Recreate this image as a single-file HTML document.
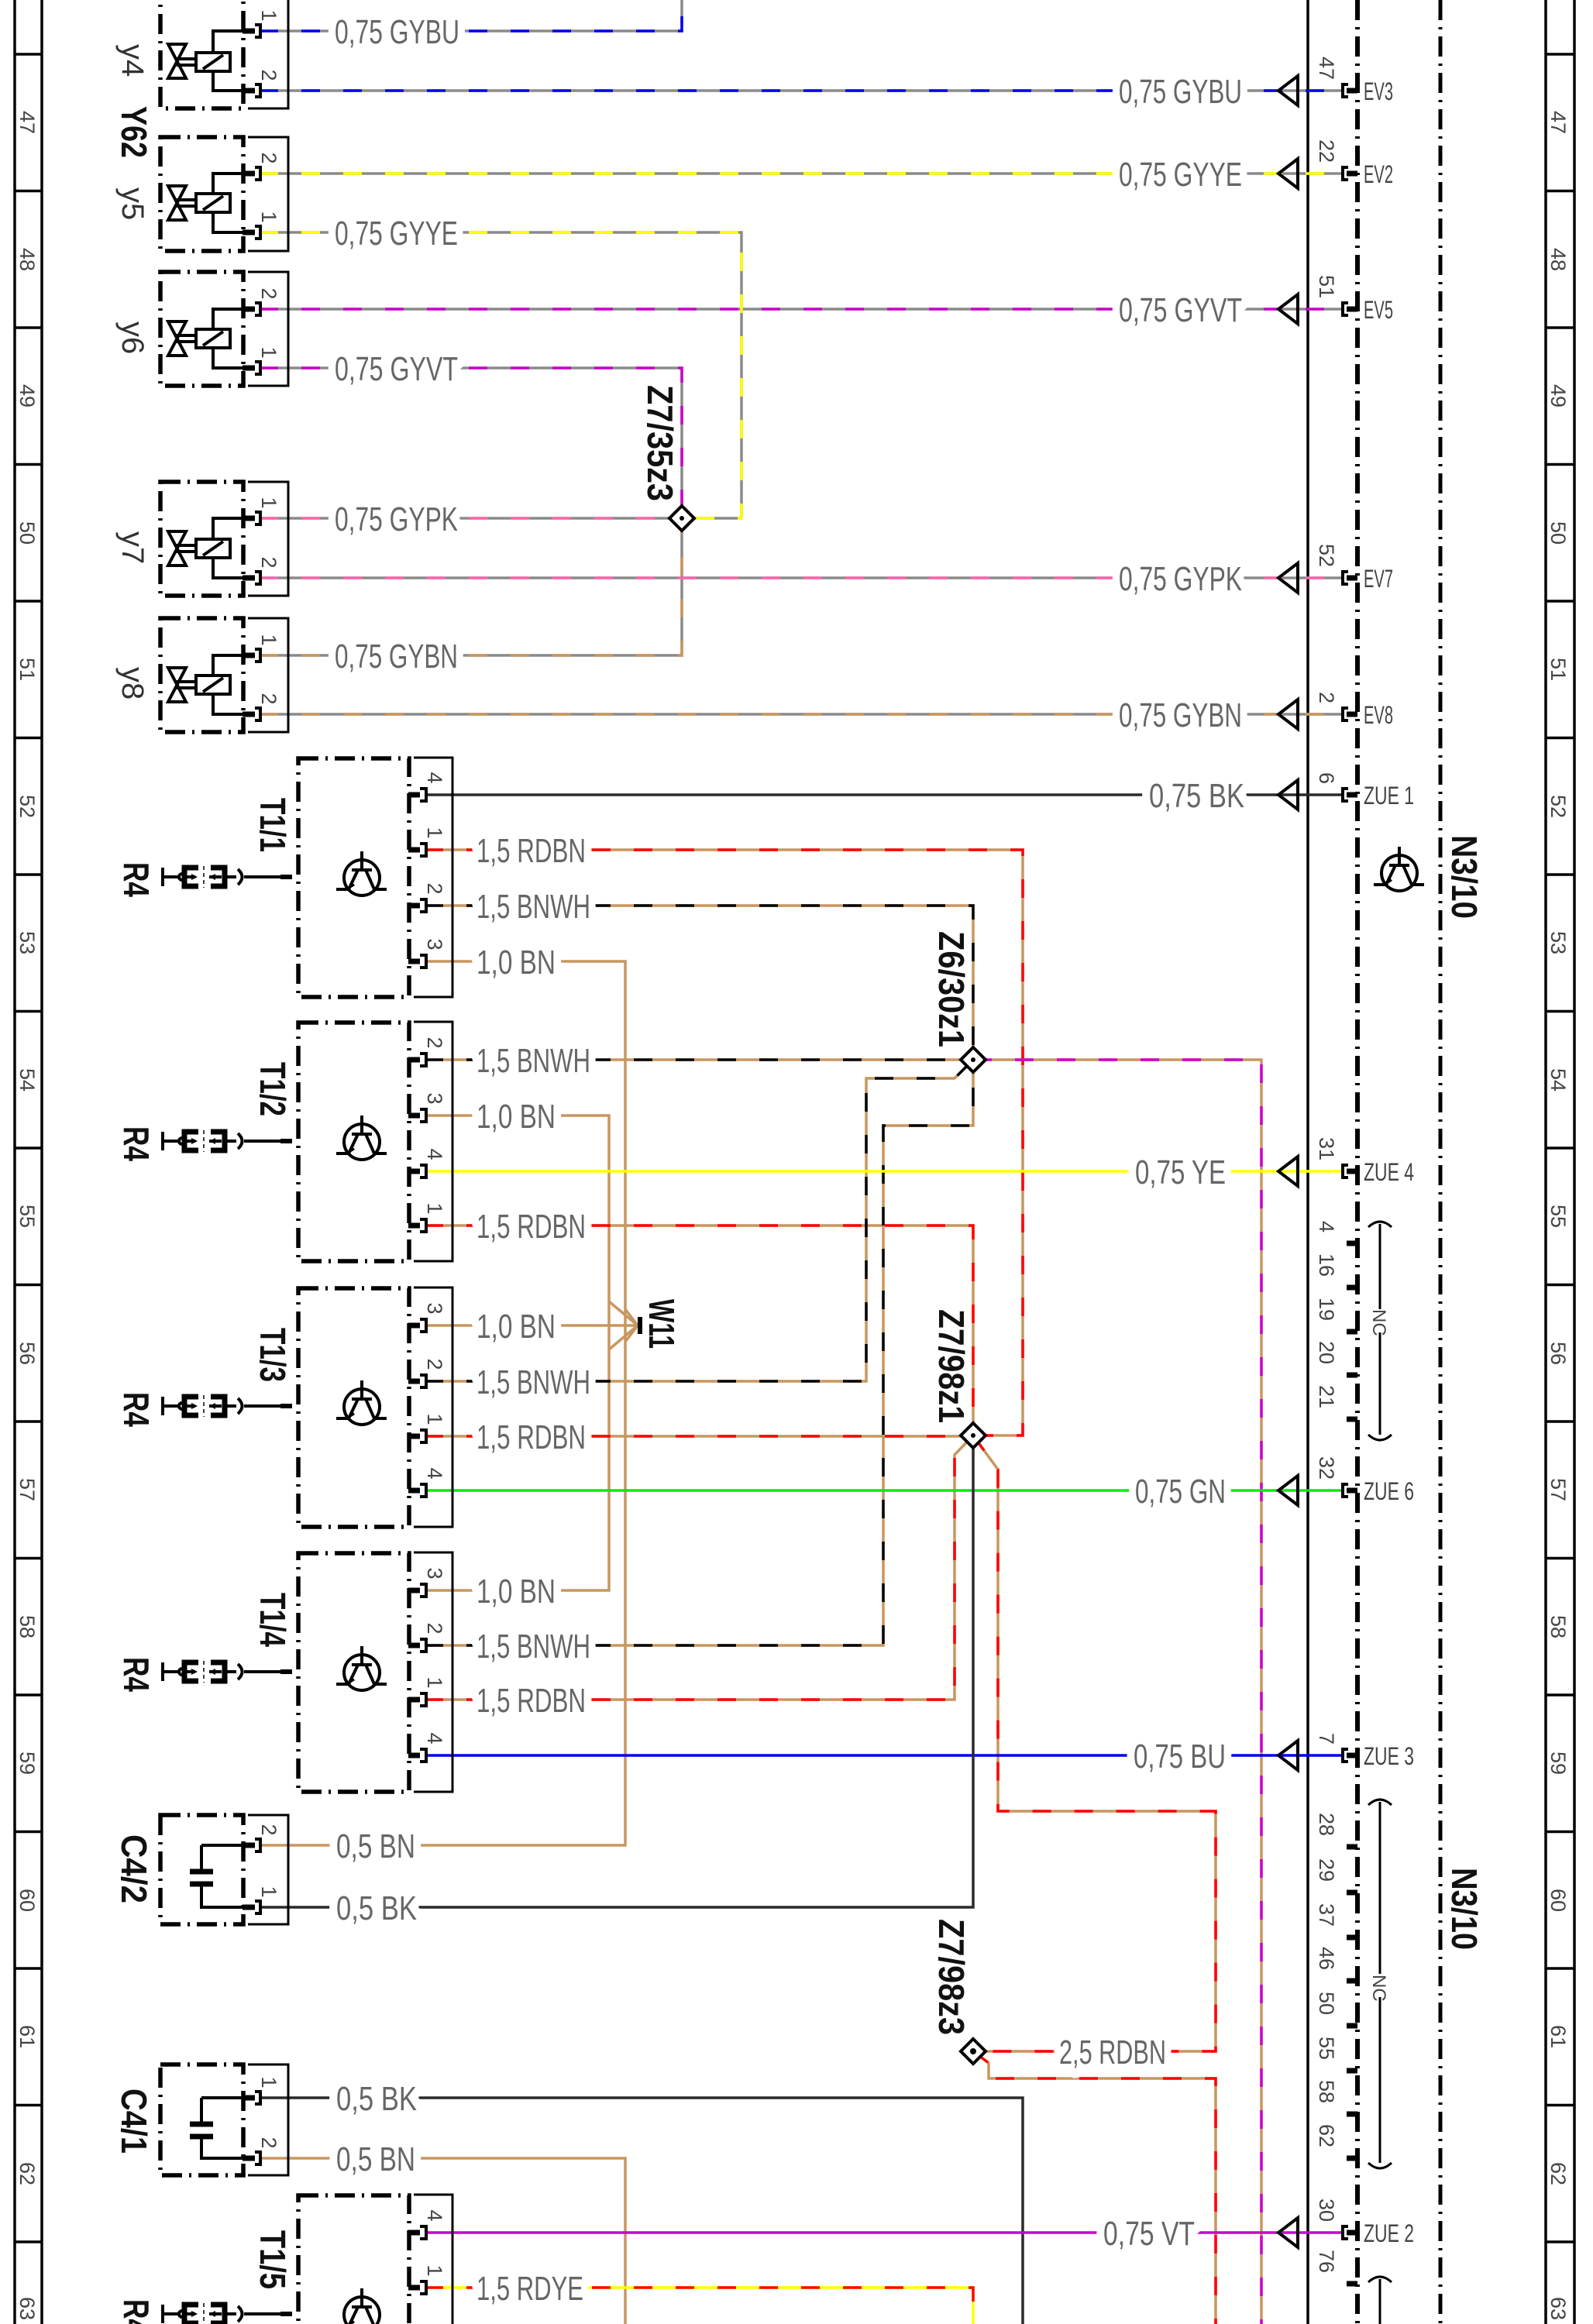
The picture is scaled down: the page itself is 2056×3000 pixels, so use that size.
<!DOCTYPE html>
<html><head><meta charset="utf-8">
<style>
html,body{margin:0;padding:0;background:#fff;}
svg{display:block;}
.w{fill:none;stroke-width:3.5;stroke-linejoin:miter;}
.d{stroke-dasharray:24 30;}
.gy{stroke:#8a8a8a}.bu{stroke:#0000ee}.ye{stroke:#ffff00}.vt{stroke:#cc00cc}.pk{stroke:#ff66aa}
.bn{stroke:#c8965f}.rd{stroke:#ff0000}.bk{stroke:#2a2a2a}.bl{stroke:#000}.gn{stroke:#00ee00}
.lb{font-family:"Liberation Sans",sans-serif;font-size:44px;fill:#666;stroke:#fff;stroke-width:26px;paint-order:stroke;stroke-linejoin:round;}
.sm{font-family:"Liberation Sans",sans-serif;font-size:27px;fill:#444;}
.cn{font-family:"Liberation Sans",sans-serif;font-size:32px;fill:#444;}
.bd{font-family:"Liberation Sans",sans-serif;font-size:46px;font-weight:bold;fill:#111;}
.nm{font-family:"Liberation Sans",sans-serif;font-size:40px;fill:#333;}
.box{fill:none;stroke:#000;stroke-width:5.5;stroke-dasharray:26 9 3 9;}
.fr{fill:none;stroke:#000;stroke-width:3;}
.k{fill:none;stroke:#000;stroke-width:4;}
.st{stroke:#000;stroke-width:7;}
</style></head><body>
<svg width="2056" height="3000" viewBox="0 0 2056 3000" xmlns="http://www.w3.org/2000/svg">
<!-- borders -->
<g stroke="#000" stroke-width="3.5" fill="none">
<path d="M19 0V3000M54 0V3000M1995 0V3000M2032 0V3000"/>
<path d="M19 70H54M19 246.5H54M19 423H54M19 599.5H54M19 776H54M19 952.5H54M19 1129H54M19 1305.5H54M19 1482H54M19 1658.5H54M19 1835H54M19 2011.5H54M19 2188H54M19 2364.5H54M19 2541H54M19 2717.5H54M19 2894H54"/>
<path d="M1995 70H2032M1995 246.5H2032M1995 423H2032M1995 599.5H2032M1995 776H2032M1995 952.5H2032M1995 1129H2032M1995 1305.5H2032M1995 1482H2032M1995 1658.5H2032M1995 1835H2032M1995 2011.5H2032M1995 2188H2032M1995 2364.5H2032M1995 2541H2032M1995 2717.5H2032M1995 2894H2032"/>
</g>
<g class="sm" text-anchor="middle">
<text transform="translate(26,158) rotate(90)">47</text><text transform="translate(26,335) rotate(90)">48</text><text transform="translate(26,511) rotate(90)">49</text><text transform="translate(26,688) rotate(90)">50</text><text transform="translate(26,864) rotate(90)">51</text><text transform="translate(26,1041) rotate(90)">52</text><text transform="translate(26,1217) rotate(90)">53</text><text transform="translate(26,1394) rotate(90)">54</text><text transform="translate(26,1570) rotate(90)">55</text><text transform="translate(26,1747) rotate(90)">56</text><text transform="translate(26,1923) rotate(90)">57</text><text transform="translate(26,2100) rotate(90)">58</text><text transform="translate(26,2276) rotate(90)">59</text><text transform="translate(26,2453) rotate(90)">60</text><text transform="translate(26,2629) rotate(90)">61</text><text transform="translate(26,2806) rotate(90)">62</text><text transform="translate(26,2980) rotate(90)">63</text>
<text transform="translate(2002,158) rotate(90)">47</text><text transform="translate(2002,335) rotate(90)">48</text><text transform="translate(2002,511) rotate(90)">49</text><text transform="translate(2002,688) rotate(90)">50</text><text transform="translate(2002,864) rotate(90)">51</text><text transform="translate(2002,1041) rotate(90)">52</text><text transform="translate(2002,1217) rotate(90)">53</text><text transform="translate(2002,1394) rotate(90)">54</text><text transform="translate(2002,1570) rotate(90)">55</text><text transform="translate(2002,1747) rotate(90)">56</text><text transform="translate(2002,1923) rotate(90)">57</text><text transform="translate(2002,2100) rotate(90)">58</text><text transform="translate(2002,2276) rotate(90)">59</text><text transform="translate(2002,2453) rotate(90)">60</text><text transform="translate(2002,2629) rotate(90)">61</text><text transform="translate(2002,2806) rotate(90)">62</text><text transform="translate(2002,2980) rotate(90)">63</text>
</g>

<!-- N3/10 module lines -->
<path d="M1688 0V3000" stroke="#000" stroke-width="3.5"/>
<path d="M1752 0V3000" stroke="#000" stroke-width="6" stroke-dasharray="26 9 3 9"/>
<path d="M1859 0V3000" stroke="#000" stroke-width="5" stroke-dasharray="26 9 3 9"/>

<!-- ===== WIRES ===== -->
<g class="w gy">
<path d="M335 40H880V0"/><path d="M335 117H1731"/><path d="M335 224H1731"/><path d="M335 300H957V669H880"/>
<path d="M335 399H1731"/><path d="M335 475H880V669"/><path d="M335 669H880"/><path d="M335 746H1731"/>
<path d="M335 846H880V669"/><path d="M335 922H1731"/>
</g>
<g class="w d">
<path class="bu" d="M335 40H880V0"/><path class="bu" d="M335 117H1731"/>
<path class="ye" d="M335 224H1731"/><path class="ye" d="M335 300H957V669H880"/>
<path class="vt" d="M335 399H1731"/><path class="vt" d="M335 475H880V669"/>
<path class="pk" d="M335 669H880"/><path class="pk" d="M335 746H1731"/>
<path class="bn" d="M335 846H880V669"/><path class="bn" d="M335 922H1731"/>
</g>
<g class="w bn">
<path d="M548 1097H1320V1853H1256"/>
<path d="M548 1169H1256V1368"/>
<path d="M548 1241H807V2382H335"/>
<path d="M548 1368H1256"/>
<path d="M548 1440H786V2053H548"/>
<path d="M548 1711H823"/>
<path d="M786 1680L823 1711L786 1742"/><path d="M807 1690L823 1711L807 1732"/>
<path d="M548 1582H1256V1853"/>
<path d="M548 1783H1118V1392H1232L1256 1368"/>
<path d="M548 1854H1256"/>
<path d="M548 2124H1140V1453H1256V1368"/>
<path d="M548 2194H1232V1878L1256 1853"/>
<path d="M1256 1853L1288 1897V2338H1569V2648H1256"/>
<path d="M1256 2648L1276 2663V2683H1569V3000"/>
<path d="M1256 1368H1628V3000"/>
<path d="M335 2786H807V3000"/>
</g>
<g class="w d">
<path class="rd" d="M548 1097H1320V1853H1256"/>
<path class="bl" d="M548 1169H1256V1368"/>
<path class="bl" d="M548 1368H1256"/>
<path class="rd" d="M548 1582H1256V1853"/>
<path class="bl" d="M548 1783H1118V1392H1232L1256 1368"/>
<path class="rd" d="M548 1854H1256"/>
<path class="bl" d="M548 2124H1140V1453H1256V1368"/>
<path class="rd" d="M548 2194H1232V1878L1256 1853"/>
<path class="rd" d="M1256 1853L1288 1897V2338H1569V2648H1256"/>
<path class="rd" d="M1256 2648L1276 2663V2683H1569V3000"/>
<path class="vt" d="M1256 1368H1628V3000"/>
</g>
<path class="w ye" d="M548 2953H1256V3000"/>
<path class="w rd d" d="M548 2953H1256V3000"/>
<path class="w bk" d="M548 1026H1731"/>
<path class="w ye" d="M548 1512H1731"/>
<path class="w gn" d="M548 1924H1731"/>
<path class="w bu" d="M548 2266H1731"/>
<path class="w bk" d="M335 2462H1256V1853"/>
<path class="w bk" d="M335 2708H1320V3000"/>
<path class="w vt" d="M548 2882H1731"/>
<path d="M826 1700V1722" stroke="#000" stroke-width="6"/>

<!-- splices -->
<g fill="#fff" stroke="#000" stroke-width="4">
<path d="M880 653L896 669L880 685L864 669Z"/>
<path d="M1256 1352L1272 1368L1256 1384L1240 1368Z"/>
<path d="M1256 1837L1272 1853L1256 1869L1240 1853Z"/>
<path d="M1256 2632L1272 2648L1256 2664L1240 2648Z"/>
</g>
<g fill="#000"><circle cx="880" cy="669" r="3"/><circle cx="1256" cy="1368" r="3"/><circle cx="1256" cy="1853" r="3"/><circle cx="1256" cy="2648" r="4"/></g>

<!-- wire labels -->
<g class="lb">
<text x="432" y="56" textLength="161" lengthAdjust="spacingAndGlyphs">0,75 GYBU</text>
<text x="1444" y="133" textLength="159" lengthAdjust="spacingAndGlyphs">0,75 GYBU</text>
<text x="1444" y="240" textLength="159" lengthAdjust="spacingAndGlyphs">0,75 GYYE</text>
<text x="432" y="316" textLength="159" lengthAdjust="spacingAndGlyphs">0,75 GYYE</text>
<text x="1444" y="415" textLength="159" lengthAdjust="spacingAndGlyphs">0,75 GYVT</text>
<text x="432" y="491" textLength="159" lengthAdjust="spacingAndGlyphs">0,75 GYVT</text>
<text x="432" y="685" textLength="159" lengthAdjust="spacingAndGlyphs">0,75 GYPK</text>
<text x="1444" y="762" textLength="159" lengthAdjust="spacingAndGlyphs">0,75 GYPK</text>
<text x="432" y="862" textLength="159" lengthAdjust="spacingAndGlyphs">0,75 GYBN</text>
<text x="1444" y="938" textLength="159" lengthAdjust="spacingAndGlyphs">0,75 GYBN</text>
<text x="1483" y="1042" textLength="123" lengthAdjust="spacingAndGlyphs">0,75 BK</text>
<text x="615" y="1113" textLength="141" lengthAdjust="spacingAndGlyphs">1,5 RDBN</text>
<text x="615" y="1185" textLength="147" lengthAdjust="spacingAndGlyphs">1,5 BNWH</text>
<text x="615" y="1257" textLength="102" lengthAdjust="spacingAndGlyphs">1,0 BN</text>
<text x="615" y="1384" textLength="147" lengthAdjust="spacingAndGlyphs">1,5 BNWH</text>
<text x="615" y="1456" textLength="102" lengthAdjust="spacingAndGlyphs">1,0 BN</text>
<text x="1465" y="1528" textLength="117" lengthAdjust="spacingAndGlyphs">0,75 YE</text>
<text x="615" y="1598" textLength="141" lengthAdjust="spacingAndGlyphs">1,5 RDBN</text>
<text x="615" y="1727" textLength="102" lengthAdjust="spacingAndGlyphs">1,0 BN</text>
<text x="615" y="1799" textLength="147" lengthAdjust="spacingAndGlyphs">1,5 BNWH</text>
<text x="615" y="1870" textLength="141" lengthAdjust="spacingAndGlyphs">1,5 RDBN</text>
<text x="1465" y="1940" textLength="117" lengthAdjust="spacingAndGlyphs">0,75 GN</text>
<text x="615" y="2069" textLength="102" lengthAdjust="spacingAndGlyphs">1,0 BN</text>
<text x="615" y="2140" textLength="147" lengthAdjust="spacingAndGlyphs">1,5 BNWH</text>
<text x="615" y="2210" textLength="141" lengthAdjust="spacingAndGlyphs">1,5 RDBN</text>
<text x="1463" y="2282" textLength="119" lengthAdjust="spacingAndGlyphs">0,75 BU</text>
<text x="434" y="2398" textLength="102" lengthAdjust="spacingAndGlyphs">0,5 BN</text>
<text x="434" y="2478" textLength="104" lengthAdjust="spacingAndGlyphs">0,5 BK</text>
<text x="1367" y="2664" textLength="138" lengthAdjust="spacingAndGlyphs">2,5 RDBN</text>
<text x="434" y="2724" textLength="104" lengthAdjust="spacingAndGlyphs">0,5 BK</text>
<text x="434" y="2802" textLength="102" lengthAdjust="spacingAndGlyphs">0,5 BN</text>
<text x="1424" y="2898" textLength="118" lengthAdjust="spacingAndGlyphs">0,75 VT</text>
<text x="615" y="2969" textLength="138" lengthAdjust="spacingAndGlyphs">1,5 RDYE</text>
</g>

<g class="bd">
<text transform="translate(836,497) rotate(90)" textLength="150" lengthAdjust="spacingAndGlyphs">Z7/35z3</text>
<text transform="translate(1212,1202) rotate(90)" textLength="150" lengthAdjust="spacingAndGlyphs">Z6/30z1</text>
<text transform="translate(1212,1690) rotate(90)" textLength="147" lengthAdjust="spacingAndGlyphs">Z7/98z1</text>
<text transform="translate(1212,2477) rotate(90)" textLength="150" lengthAdjust="spacingAndGlyphs">Z7/98z3</text>
<text transform="translate(838,1677) rotate(90)" textLength="64" lengthAdjust="spacingAndGlyphs">W11</text>
<text transform="translate(1874,1078) rotate(90)" textLength="108" lengthAdjust="spacingAndGlyphs">N3/10</text>
<text transform="translate(1874,2411) rotate(90)" textLength="106" lengthAdjust="spacingAndGlyphs">N3/10</text>
</g>

<g class="k">
<path d="M1675 98L1650 117L1675 136Z"/><path d="M1675 205L1650 224L1675 243Z"/><path d="M1675 380L1650 399L1675 418Z"/>
<path d="M1675 727L1650 746L1675 765Z"/><path d="M1675 903L1650 922L1675 941Z"/><path d="M1675 1007L1650 1026L1675 1045Z"/>
<path d="M1675 1493L1650 1512L1675 1531Z"/><path d="M1675 1905L1650 1924L1675 1943Z"/><path d="M1675 2247L1650 2266L1675 2285Z"/>
<path d="M1675 2863L1650 2882L1675 2901Z"/>
<path d="M1740 109H1733V125H1740M1740 216H1733V232H1740M1740 391H1733V407H1740M1740 738H1733V754H1740M1740 914H1733V930H1740M1740 1018H1733V1034H1740M1740 1504H1733V1520H1740M1740 1916H1733V1932H1740M1740 2258H1733V2274H1740M1740 2874H1733V2890H1740"/>
</g>
<g class="st">
<path d="M1738 117H1752M1738 224H1752M1738 399H1752M1738 746H1752M1738 922H1752M1738 1026H1752M1738 1512H1752M1738 1924H1752M1738 2266H1752M1738 2882H1752"/>
<path d="M1738 1605H1752M1738 1662H1752M1738 1719H1752M1738 1775H1752M1738 1832H1752M1738 2384H1752M1738 2443H1752M1738 2501H1752M1738 2557H1752M1738 2615H1752M1738 2673H1752M1738 2729H1752M1738 2786H1752M1738 2948H1752"/>
</g>
<g class="sm" text-anchor="end">
<text transform="translate(1703,103) rotate(90)">47</text><text transform="translate(1703,210) rotate(90)">22</text><text transform="translate(1703,385) rotate(90)">51</text><text transform="translate(1703,732) rotate(90)">52</text><text transform="translate(1703,908) rotate(90)">2</text><text transform="translate(1703,1012) rotate(90)">6</text><text transform="translate(1703,1498) rotate(90)">31</text>
<text transform="translate(1703,1591) rotate(90)">4</text><text transform="translate(1703,1648) rotate(90)">16</text><text transform="translate(1703,1705) rotate(90)">19</text><text transform="translate(1703,1761) rotate(90)">20</text><text transform="translate(1703,1818) rotate(90)">21</text>
<text transform="translate(1703,1910) rotate(90)">32</text><text transform="translate(1703,2252) rotate(90)">7</text>
<text transform="translate(1703,2370) rotate(90)">28</text><text transform="translate(1703,2429) rotate(90)">29</text><text transform="translate(1703,2487) rotate(90)">37</text><text transform="translate(1703,2543) rotate(90)">46</text><text transform="translate(1703,2601) rotate(90)">50</text><text transform="translate(1703,2659) rotate(90)">55</text><text transform="translate(1703,2715) rotate(90)">58</text><text transform="translate(1703,2772) rotate(90)">62</text>
<text transform="translate(1703,2868) rotate(90)">30</text><text transform="translate(1703,2934) rotate(90)">76</text>
</g>
<g class="cn">
<text x="1760" y="129" textLength="38" lengthAdjust="spacingAndGlyphs">EV3</text>
<text x="1760" y="236" textLength="38" lengthAdjust="spacingAndGlyphs">EV2</text>
<text x="1760" y="411" textLength="38" lengthAdjust="spacingAndGlyphs">EV5</text>
<text x="1760" y="758" textLength="38" lengthAdjust="spacingAndGlyphs">EV7</text>
<text x="1760" y="934" textLength="38" lengthAdjust="spacingAndGlyphs">EV8</text>
<text x="1760" y="1038" textLength="65" lengthAdjust="spacingAndGlyphs">ZUE 1</text>
<text x="1760" y="1524" textLength="65" lengthAdjust="spacingAndGlyphs">ZUE 4</text>
<text x="1760" y="1936" textLength="65" lengthAdjust="spacingAndGlyphs">ZUE 6</text>
<text x="1760" y="2278" textLength="65" lengthAdjust="spacingAndGlyphs">ZUE 3</text>
<text x="1760" y="2894" textLength="65" lengthAdjust="spacingAndGlyphs">ZUE 2</text>
</g>
<g fill="none" stroke="#000" stroke-width="3">
<path d="M1781 1580V1690M1781 1720V1852M1766 1584Q1781 1570 1796 1584M1766 1852Q1781 1866 1796 1852"/>
<path d="M1781 2326V2548M1781 2578V2792M1766 2330Q1781 2316 1796 2330M1766 2792Q1781 2806 1796 2792"/>
<path d="M1781 2942V3000M1766 2946Q1781 2932 1796 2946"/>
</g>
<g class="sm"><text transform="translate(1772,1690) rotate(90)" font-size="24">NC</text><text transform="translate(1772,2549) rotate(90)" font-size="24">NC</text></g>
<g class="k">
<circle cx="1806" cy="1127" r="23"/><path d="M1806 1093V1117M1793 1117H1819M1801 1117L1789 1142M1811 1117L1822 1142M1773 1142H1789M1822 1142H1838"/>
</g>
<path d="M1789 1142l3-11l5 6z" fill="#000"/>

<!-- ===== VALVES ===== -->
<rect class="box" x="207" y="-20" width="107" height="160"/>
<rect class="box" x="207" y="177" width="107" height="147"/>
<rect class="box" x="207" y="351" width="107" height="147"/>
<rect class="box" x="207" y="622" width="107" height="147"/>
<rect class="box" x="207" y="798" width="107" height="147"/>
<path class="fr" d="M320 -5H372V140H320M320 177H372V324H320M320 351H372V498H320M320 622H372V769H320M320 798H372V945H320"/>
<g class="k">
<path d="M217 57H240L217 101H240Z"/><path d="M228 76H253M228 84H253"/><rect x="253" y="68" width="44" height="24"/><path d="M262 89L288 71M275 68V40H314M275 92V117H314"/>
<path d="M217 240H240L217 284H240Z"/><path d="M228 258H253M228 266H253"/><rect x="253" y="250" width="44" height="24"/><path d="M262 271L288 253M275 250V224H314M275 274V300H314"/>
<path d="M217 415H240L217 459H240Z"/><path d="M228 433H253M228 441H253"/><rect x="253" y="425" width="44" height="24"/><path d="M262 446L288 428M275 425V399H314M275 449V475H314"/>
<path d="M217 686H240L217 730H240Z"/><path d="M228 704H253M228 712H253"/><rect x="253" y="696" width="44" height="24"/><path d="M262 717L288 699M275 696V669H314M275 720V746H314"/>
<path d="M217 862H240L217 906H240Z"/><path d="M228 880H253M228 888H253"/><rect x="253" y="872" width="44" height="24"/><path d="M262 893L288 875M275 872V846H314M275 896V922H314"/>
<path d="M329 32H336V48H329M329 109H336V125H329M329 216H336V232H329M329 292H336V308H329M329 391H336V407H329M329 467H336V483H329M329 661H336V677H329M329 738H336V754H329M329 838H336V854H329M329 914H336V930H329"/>
<path d="M329 2374H336V2390H329M329 2454H336V2470H329M329 2700H336V2716H329M329 2778H336V2794H329"/>
</g>
<g class="st"><path d="M313 40H329M313 117H329M313 224H329M313 300H329M313 399H329M313 475H329M313 669H329M313 746H329M313 846H329M313 922H329M313 2382H329M313 2462H329M313 2708H329M313 2786H329"/></g>
<g class="sm">
<text transform="translate(338,20) rotate(90)" text-anchor="middle">1</text><text transform="translate(338,97) rotate(90)" text-anchor="middle">2</text>
<text transform="translate(338,204) rotate(90)" text-anchor="middle">2</text><text transform="translate(338,280) rotate(90)" text-anchor="middle">1</text>
<text transform="translate(338,379) rotate(90)" text-anchor="middle">2</text><text transform="translate(338,455) rotate(90)" text-anchor="middle">1</text>
<text transform="translate(338,649) rotate(90)" text-anchor="middle">1</text><text transform="translate(338,726) rotate(90)" text-anchor="middle">2</text>
<text transform="translate(338,826) rotate(90)" text-anchor="middle">1</text><text transform="translate(338,902) rotate(90)" text-anchor="middle">2</text>
<text transform="translate(338,2362) rotate(90)" text-anchor="middle">2</text><text transform="translate(338,2442) rotate(90)" text-anchor="middle">1</text>
<text transform="translate(338,2688) rotate(90)" text-anchor="middle">1</text><text transform="translate(338,2766) rotate(90)" text-anchor="middle">2</text>
</g>
<g class="nm">
<text transform="translate(158,57) rotate(90)">y4</text><text transform="translate(158,242) rotate(90)">y5</text><text transform="translate(158,415) rotate(90)">y6</text><text transform="translate(158,686) rotate(90)">y7</text><text transform="translate(158,861) rotate(90)">y8</text>
</g>
<text class="bd" transform="translate(157,137) rotate(90)" textLength="67" lengthAdjust="spacingAndGlyphs">Y62</text>

<!-- capacitors -->
<rect class="box" x="207" y="2343" width="107" height="141"/>
<rect class="box" x="207" y="2665" width="107" height="143"/>
<path class="fr" d="M320 2343H372V2484H320M320 2665H372V2808H320"/>
<g class="k"><path d="M260 2382H314M260 2382V2414M260 2434V2462H314M260 2708H314M260 2708V2740M260 2760V2786H314"/></g>
<g stroke="#000" stroke-width="7"><path d="M245 2416H275M245 2432H275M245 2742H275M245 2758H275"/></g>
<g class="bd"><text transform="translate(157,2368) rotate(90)" textLength="89" lengthAdjust="spacingAndGlyphs">C4/2</text><text transform="translate(157,2696) rotate(90)" textLength="84" lengthAdjust="spacingAndGlyphs">C4/1</text></g>

<!-- ===== T1 sensors ===== -->
<g class="box">
<rect x="385" y="979" width="143" height="308"/>
<rect x="385" y="1320" width="143" height="308"/>
<rect x="385" y="1663" width="143" height="308"/>
<rect x="385" y="2005" width="143" height="308"/>
<rect x="385" y="2834" width="143" height="308"/>
</g>
<path class="fr" d="M534 978H584V1287H534M534 1319H584V1628H534M534 1662H584V1971H534M534 2004H584V2313H534M534 2833H584V3000"/>
<defs>
<g id="tr1">
<g class="k">
<circle cx="467" cy="1133" r="23"/><path d="M467 1099V1123M454 1123H480M462 1123L450 1148M472 1123L483 1148M434 1148H450M483 1148H499"/>
<path d="M210 1120V1144M210 1132H230M307 1122Q318 1132 307 1142M315 1132H377"/><circle cx="235" cy="1132" r="4" fill="#fff"/>
<path d="M240 1132H252M286 1132H270M293 1132H305"/>
<path d="M263 1118V1146" stroke-width="1.5" stroke-dasharray="5 4"/>
</g>
<path d="M256 1120H238V1144H256M272 1120H290V1144H272" fill="none" stroke="#000" stroke-width="7"/>
<path d="M255 1132l-8-4v8zM270 1132l8-4v8z" fill="#000"/>
<path d="M450 1148l3-11l5 6z" fill="#000"/>
<path d="M362 1132H377" stroke="#000" stroke-width="6"/>
</g>
</defs>
<use href="#tr1"/><use href="#tr1" y="341"/><use href="#tr1" y="683"/><use href="#tr1" y="1026"/><use href="#tr1" y="1855"/>
<g class="bd">
<text transform="translate(336,1030) rotate(90)" textLength="70" lengthAdjust="spacingAndGlyphs">T1/1</text>
<text transform="translate(336,1371) rotate(90)" textLength="70" lengthAdjust="spacingAndGlyphs">T1/2</text>
<text transform="translate(336,1714) rotate(90)" textLength="70" lengthAdjust="spacingAndGlyphs">T1/3</text>
<text transform="translate(336,2056) rotate(90)" textLength="70" lengthAdjust="spacingAndGlyphs">T1/4</text>
<text transform="translate(336,2879) rotate(90)" textLength="76" lengthAdjust="spacingAndGlyphs">T1/5</text>
<text transform="translate(160,1113) rotate(90)" textLength="45" lengthAdjust="spacingAndGlyphs">R4</text>
<text transform="translate(160,1454) rotate(90)" textLength="45" lengthAdjust="spacingAndGlyphs">R4</text>
<text transform="translate(160,1797) rotate(90)" textLength="45" lengthAdjust="spacingAndGlyphs">R4</text>
<text transform="translate(160,2139) rotate(90)" textLength="45" lengthAdjust="spacingAndGlyphs">R4</text>
<text transform="translate(160,2968) rotate(90)" textLength="45" lengthAdjust="spacingAndGlyphs">R4</text>
</g>
<g class="k"><path d="M542 1018H550V1034H542M542 1089H550V1105H542M542 1161H550V1177H542M542 1233H550V1249H542M542 1360H550V1376H542M542 1432H550V1448H542M542 1504H550V1520H542M542 1574H550V1590H542M542 1703H550V1719H542M542 1775H550V1791H542M542 1846H550V1862H542M542 1916H550V1932H542M542 2045H550V2061H542M542 2116H550V2132H542M542 2186H550V2202H542M542 2258H550V2274H542M542 2874H550V2890H542M542 2945H550V2961H542"/></g>
<g class="st"><path d="M527 1026H542M527 1097H542M527 1169H542M527 1241H542M527 1368H542M527 1440H542M527 1512H542M527 1582H542M527 1711H542M527 1783H542M527 1854H542M527 1924H542M527 2053H542M527 2124H542M527 2194H542M527 2266H542M527 2882H542M527 2953H542"/></g>
<g class="sm" text-anchor="middle">
<text transform="translate(552,1004) rotate(90)">4</text><text transform="translate(552,1075) rotate(90)">1</text><text transform="translate(552,1147) rotate(90)">2</text><text transform="translate(552,1219) rotate(90)">3</text>
<text transform="translate(552,1346) rotate(90)">2</text><text transform="translate(552,1418) rotate(90)">3</text><text transform="translate(552,1490) rotate(90)">4</text><text transform="translate(552,1560) rotate(90)">1</text>
<text transform="translate(552,1689) rotate(90)">3</text><text transform="translate(552,1761) rotate(90)">2</text><text transform="translate(552,1832) rotate(90)">1</text><text transform="translate(552,1902) rotate(90)">4</text>
<text transform="translate(552,2031) rotate(90)">3</text><text transform="translate(552,2102) rotate(90)">2</text><text transform="translate(552,2172) rotate(90)">1</text><text transform="translate(552,2244) rotate(90)">4</text>
<text transform="translate(552,2860) rotate(90)">4</text><text transform="translate(552,2931) rotate(90)">1</text>
</g>
</svg>
</body></html>
